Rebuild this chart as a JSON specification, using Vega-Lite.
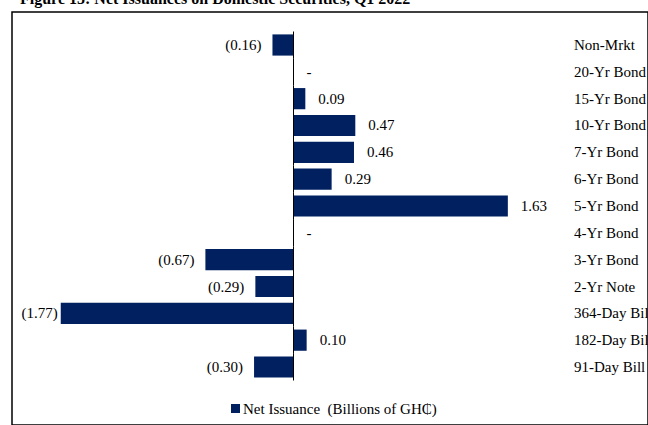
{
  "$schema": "https://vega.github.io/schema/vega-lite/v6.json",
  "autosize": {"type": "none"},
  "padding": {"left": 12, "top": 12, "right": 0, "bottom": 0},
  "width": 636,
  "height": 413,
  "background": "white",
  "title": {
    "text": "Figure 15: Net Issuances on Domestic Securities, Q1 2022",
    "anchor": "start",
    "font": "Liberation Serif",
    "fontSize": 16,
    "fontWeight": "bold",
    "color": "#000000",
    "baseline": "alphabetic",
    "offset": 0,
    "dy": 8,
    "dx": 8
  },
  "config": {
    "view": {"stroke": "#000000", "strokeWidth": 1.5},
    "text": {"font": "Liberation Serif", "fontSize": 15, "color": "#000000"},
    "legend": {"labelFont": "Liberation Serif", "labelFontSize": 15, "labelColor": "#000000"}
  },
  "data": {
    "values": [
      {"category": "Non-Mrkt", "value": -0.16, "series": "Net Issuance\u00a0 (Billions of GH\u20b5)"},
      {"category": "20-Yr Bond", "value": 0, "series": "Net Issuance\u00a0 (Billions of GH\u20b5)"},
      {"category": "15-Yr Bond", "value": 0.09, "series": "Net Issuance\u00a0 (Billions of GH\u20b5)"},
      {"category": "10-Yr Bond", "value": 0.47, "series": "Net Issuance\u00a0 (Billions of GH\u20b5)"},
      {"category": "7-Yr Bond", "value": 0.46, "series": "Net Issuance\u00a0 (Billions of GH\u20b5)"},
      {"category": "6-Yr Bond", "value": 0.29, "series": "Net Issuance\u00a0 (Billions of GH\u20b5)"},
      {"category": "5-Yr Bond", "value": 1.63, "series": "Net Issuance\u00a0 (Billions of GH\u20b5)"},
      {"category": "4-Yr Bond", "value": 0, "series": "Net Issuance\u00a0 (Billions of GH\u20b5)"},
      {"category": "3-Yr Bond", "value": -0.67, "series": "Net Issuance\u00a0 (Billions of GH\u20b5)"},
      {"category": "2-Yr Note", "value": -0.29, "series": "Net Issuance\u00a0 (Billions of GH\u20b5)"},
      {"category": "364-Day Bill", "value": -1.77, "series": "Net Issuance\u00a0 (Billions of GH\u20b5)"},
      {"category": "182-Day Bill", "value": 0.10, "series": "Net Issuance\u00a0 (Billions of GH\u20b5)"},
      {"category": "91-Day Bill", "value": -0.30, "series": "Net Issuance\u00a0 (Billions of GH\u20b5)"}
    ]
  },
  "transform": [
    {"calculate": "datum.value == 0 ? '-' : (datum.value < 0 ? '(' + format(-datum.value, '.2f') + ')' : format(datum.value, '.2f'))", "as": "label"}
  ],
  "encoding": {
    "y": {
      "field": "category",
      "type": "nominal",
      "sort": null,
      "axis": null,
      "scale": {"range": [22.4, 365.6], "paddingInner": 0.21, "paddingOuter": 0}
    }
  },
  "layer": [
    {
      "mark": {"type": "bar"},
      "encoding": {
        "x": {"field": "value", "type": "quantitative", "axis": null, "scale": {"domain": [-2.1407, 2.6958], "nice": false, "zero": false}},
        "color": {
          "field": "series",
          "type": "nominal",
          "scale": {"range": ["#002060"]},
          "legend": {
            "title": null,
            "orient": "none",
            "legendX": 216,
            "legendY": 389,
            "symbolType": "square",
            "symbolSize": 81,
            "symbolStrokeWidth": 0,
            "labelOffset": 0,
            "labelLimit": 500,
            "labelFont": "Liberation Serif"
          }
        }
      }
    },
    {
      "mark": {"type": "tick", "color": "#000000", "thickness": 1, "size": 27, "opacity": 1},
      "encoding": {
        "x": {"datum": 0, "type": "quantitative"}
      }
    },
    {
      "transform": [{"filter": "datum.value >= 0"}],
      "mark": {"type": "text", "align": "left", "baseline": "middle", "dx": 13, "font": "Liberation Serif", "fontSize": 15},
      "encoding": {
        "x": {"field": "value", "type": "quantitative"},
        "text": {"field": "label"}
      }
    },
    {
      "transform": [{"filter": "datum.value < 0 && datum.value > -1.5"}],
      "mark": {"type": "text", "align": "right", "baseline": "middle", "dx": -11, "font": "Liberation Serif", "fontSize": 15},
      "encoding": {
        "x": {"field": "value", "type": "quantitative"},
        "text": {"field": "label"}
      }
    },
    {
      "transform": [{"filter": "datum.value <= -1.5"}],
      "mark": {"type": "text", "align": "right", "baseline": "middle", "dx": -3, "font": "Liberation Serif", "fontSize": 15},
      "encoding": {
        "x": {"field": "value", "type": "quantitative"},
        "text": {"field": "label"}
      }
    },
    {
      "mark": {"type": "text", "align": "left", "baseline": "middle", "font": "Liberation Serif", "fontSize": 15},
      "encoding": {
        "x": {"datum": 2.133, "type": "quantitative"},
        "text": {"field": "category"}
      }
    }
  ]
}
